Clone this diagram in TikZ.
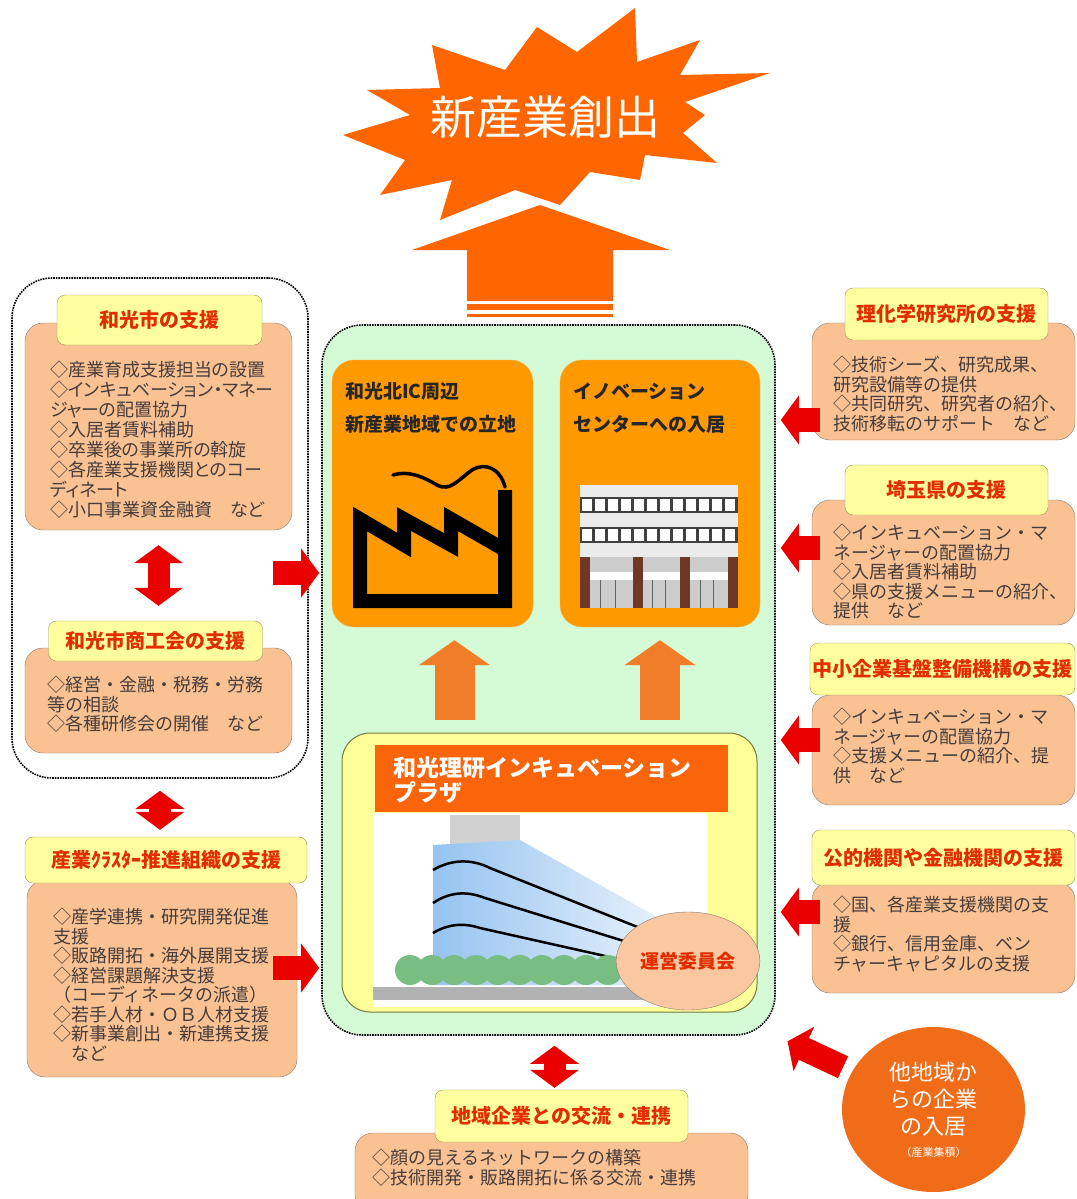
\documentclass[tikz,border=0pt]{standalone}
\usepackage{fontspec}
\setmainfont{Noto Sans CJK JP}
\newfontfamily\propfont{Noto Sans CJK JP}[RawFeature={+palt}]
\usetikzlibrary{shapes, arrows.meta, positioning, calc}

\definecolor{hubgreen}{RGB}{212,250,214}
\definecolor{spotorange}{RGB}{255,153,0}
\definecolor{plazayellow}{RGB}{255,255,153}
\definecolor{bannerorange}{RGB}{250,100,10}
\definecolor{headyellow}{RGB}{255,255,160}
\definecolor{headline}{RGB}{150,150,80}
\definecolor{headred}{RGB}{225,45,0}
\definecolor{bodypeach}{RGB}{250,194,146}
\definecolor{bodyline}{RGB}{140,120,105}
\definecolor{listgray}{RGB}{70,60,60}
\definecolor{arrowred}{RGB}{235,0,0}
\definecolor{uporange}{RGB}{242,125,40}
\definecolor{burstorange}{RGB}{255,102,0}
\definecolor{otherorange}{RGB}{240,108,25}
\definecolor{glassblue}{RGB}{150,195,240}
\definecolor{shrubgreen}{RGB}{120,190,130}
\definecolor{pillarbrown}{RGB}{110,55,40}
\definecolor{committee}{RGB}{250,200,160}

\begin{document}
\begin{tikzpicture}[x=1pt, y=-1pt,
   dotgroup/.style={draw, densely dotted, line width=1.6pt, rounded corners=40pt},
   hub/.style={dotgroup, fill=hubgreen},
   spot/.style={rectangle, fill=spotorange, draw=spotorange!70!white, rounded corners=22pt},
   spottext/.style={align=left, inner sep=0pt, text=black!85, font=\bfseries\fontsize{19}{33}\selectfont},
   plaza/.style={rectangle, draw=headline!80!black, fill=plazayellow, rounded corners=28pt, line width=1pt},
   headbox/.style={rectangle, draw=headline, fill=headyellow, rounded corners=8pt, inner sep=1pt, text=headred, font=\bfseries\fontsize{20}{22}\selectfont},
   bodybox/.style={rectangle, draw=bodyline, fill=bodypeach, rounded corners=18pt},
   items/.style={align=left, inner sep=0pt, text=listgray, font=\fontsize{18}{19.5}\selectfont},
   redarrow/.style={draw=arrowred, line width=24pt, -{Triangle[length=18pt, width=48pt]}},
   redboth/.style={draw=arrowred, line width=22pt, {Triangle[length=18pt, width=48pt]}-{Triangle[length=18pt, width=48pt]}},
   uparrow/.style={draw=uporange, line width=40pt, -{Triangle[length=25pt, width=70pt]}}
]
   \useasboundingbox (0,0) rectangle (1076,1199);

   % Burst
   \fill[burstorange] (432,45) -- (505,70) -- (537,27) -- (577,52) -- (635,8) -- (637,62) -- (700,40) -- (680,75) -- (770,73) -- (685,102) -- (705,115) -- (683,133) -- (717,163) -- (645,155) -- (640,180) -- (590,172) -- (560,205) -- (515,190) -- (440,220) -- (452,180) -- (380,195) -- (405,160) -- (343,135) -- (410,115) -- (367,90) -- (440,88) -- cycle;
   \node[text=white, font=\fontsize{46}{50}\selectfont] (burst) at (545,117) {新産業創出};

   % Big arrow up to the burst
   \fill[burstorange] (467,301) -- (467,250) -- (412,250) -- (540,205) -- (670,250) -- (613,250) -- (613,301) -- cycle;
   \fill[burstorange] (467,304) rectangle (613,310);
   \fill[burstorange] (467,314) rectangle (613,317);

   % Hub
   \node[hub, minimum width=453pt, minimum height=710pt] (hub) at (548.5,680) {};

   % Site and incubation centre
   \node[spot, minimum width=201pt, minimum height=267pt] (site) at (432.5,493.5) {};
   \node[spot, minimum width=200pt, minimum height=267pt] (entry) at (660,493.5) {};
   \node[spottext, below right=22pt and 13pt of site.north west] (sitetext) {和光北IC周辺\\新産業地域での立地};
   \node[spottext, below right=23pt and 13pt of entry.north west] (entrytext) {イノベーション\\センターへの入居};

   % Factory
   \draw[line width=14pt, miter limit=4] (505,490) -- (505,601) -- (360,601) -- (360,519) -- (404,545) -- (404,519) -- (451,545) -- (451,519) -- (505,550);
   \draw[line width=3.5pt, line cap=round] (505,487) .. controls (500,468) and (485,462) .. (472,470) .. controls (458,480) and (450,492) .. (437,485) .. controls (425,478) and (410,470) .. (393,475);

   % Office block
   \fill[black!8] (580,485) rectangle (738,557);
   \foreach \y in {497,527} {
      \fill[black!75] (580,\y) rectangle (738,\y+16);
      \foreach \i in {0,...,11}
         \fill[white] (582+\i*13,\y+2) rectangle (592+\i*13,\y+14);
   }
   \fill[black!20] (580,557) rectangle (738,608);
   \fill[white] (580,572) rectangle (738,580);
   \foreach \x in {600,615,652,665,700,713}
      \draw[black!60, line width=1pt] (\x,580) -- (\x,608);
   \foreach \x in {580,633,680,728}
      \fill[pillarbrown] (\x,557) rectangle (\x+10,608);

   % Plaza
   \node[plaza, minimum width=415pt, minimum height=279pt] (plaza) at (549.5,872.5) {};
   \node[rectangle, fill=bannerorange, minimum width=353pt, minimum height=67pt] (banner) at (551.5,778.5) {};
   \node[align=left, inner sep=0pt, text=white, font=\bfseries\fontsize{23}{25}\selectfont, below right=12pt and 18pt of banner.north west] (bannertext) {和光理研インキュベーション\\プラザ};
   \fill[white] (373,813) rectangle (707,1007);
   \fill[black!18] (450,815) rectangle (520,845);
   \shade[left color=glassblue, right color=glassblue!25] (433,845) -- (520,840) -- (657,917) -- (657,985) -- (433,985) -- cycle;
   \draw[line width=2.5pt] (433,870) .. controls (450,860) and (470,858) .. (490,868) -- (640,928);
   \draw[line width=2.5pt] (433,903) .. controls (448,893) and (465,890) .. (485,898) -- (627,942);
   \draw[line width=2.5pt] (433,933) .. controls (446,925) and (462,922) .. (480,928) -- (623,960);
   \foreach \x in {410,432,...,615}
      \fill[shrubgreen] (\x,970) circle (15);
   \fill[black!30] (373,987) rectangle (645,1000);
   \node[ellipse, draw=bodyline, fill=committee, minimum width=127pt, minimum height=98pt, text=headred, font=\bfseries\fontsize{19}{20}\selectfont] (board) at (688,961) {運営委員会};

   \draw[uparrow, shorten <=13pt, shorten >=13pt] ([xshift=22pt]site.south |- plaza.north) -- ([xshift=22pt]site.south);
   \draw[uparrow, shorten <=13pt, shorten >=13pt] (entry.south |- plaza.north) -- (entry.south);

   % Left column
   \node[dotgroup, minimum width=296pt, minimum height=500pt] (lgroup) at (160,528) {};
   \node[bodybox, minimum width=267pt, minimum height=207pt] (wakobody) at (158.5,426.5) {};
   \node[headbox, minimum width=205pt, minimum height=50pt] (wakohead) at (159.5,320) {和光市の支援};
   \node[items, font=\propfont\fontsize{18}{20}\selectfont, below right=38pt and 25pt of wakobody.north west] (wakolist) {◇産業育成支援担当の設置\\◇インキュベーション・マネー\\ジャーの配置協力\\◇入居者賃料補助\\◇卒業後の事業所の斡旋\\◇各産業支援機関とのコー\\ディネート\\◇小口事業資金融資　など};

   \node[bodybox, minimum width=267pt, minimum height=105pt] (shokobody) at (158.5,700.5) {};
   \node[headbox, minimum width=214pt, minimum height=40pt] (shokohead) at (155.5,641) {和光市商工会の支援};
   \node[items, below right=28pt and 22pt of shokobody.north west] (shokolist) {◇経営・金融・税務・労務\\等の相談\\◇各種研修会の開催　など};

   \node[bodybox, minimum width=270pt, minimum height=197pt] (clusterbody) at (162,978.5) {};
   \node[headbox, minimum width=282pt, minimum height=46pt] (clusterhead) at (166,860) {産業ｸﾗｽﾀｰ推進組織の支援};
   \node[items, below right=28pt and 26pt of clusterbody.north west] (clusterlist) {◇産学連携・研究開発促進\\支援\\◇販路開拓・海外展開支援\\◇経営課題解決支援\\（コーディネータの派遣）\\◇若手人材・ＯＢ人材支援\\◇新事業創出・新連携支援\\　など};

   \draw[redboth, shorten <=15pt, shorten >=15pt] (wakobody.south) -- (wakobody.south |- shokohead.north);
   \draw[redboth, shorten <=12pt, shorten >=7pt] (lgroup.south) -- (lgroup.south |- clusterhead.north);
   \draw[redarrow, shorten >=2pt] ([xshift=-36pt]lgroup.east |- 0,573) -- (hub.west |- 0,573);
   \draw[redarrow, shorten <=-24pt, shorten >=2pt] (clusterbody.east |- 0,968) -- (hub.west |- 0,968);

   % Right column
   \node[bodybox, minimum width=263pt, minimum height=117pt] (rikenbody) at (943.5,381.5) {};
   \node[headbox, minimum width=203pt, minimum height=52pt] (rikenhead) at (946.5,314) {理化学研究所の支援};
   \node[items, below right=33pt and 21pt of rikenbody.north west] (rikenlist) {◇技術シーズ、研究成果、\\研究設備等の提供\\◇共同研究、研究者の紹介、\\技術移転のサポート　など};

   \node[bodybox, minimum width=263pt, minimum height=125pt] (prefbody) at (943.5,562.5) {};
   \node[headbox, minimum width=203pt, minimum height=50pt] (prefhead) at (946.5,490) {埼玉県の支援};
   \node[items, below right=24pt and 21pt of prefbody.north west] (preflist) {◇インキュベーション・マ\\ネージャーの配置協力\\◇入居者賃料補助\\◇県の支援メニューの紹介、\\提供　など};

   \node[bodybox, minimum width=263pt, minimum height=110pt] (smrjbody) at (943.5,750) {};
   \node[headbox, minimum width=265pt, minimum height=52pt] (smrjhead) at (942.5,669) {中小企業基盤整備機構の支援};
   \node[items, below right=13pt and 21pt of smrjbody.north west] (smrjlist) {◇インキュベーション・マ\\ネージャーの配置協力\\◇支援メニューの紹介、提\\供　など};

   \node[bodybox, minimum width=263pt, minimum height=111pt] (bankbody) at (943.5,937.5) {};
   \node[headbox, minimum width=263pt, minimum height=55pt] (bankhead) at (943.5,857.5) {公的機関や金融機関の支援};
   \node[items, below right=14pt and 21pt of bankbody.north west] (banklist) {◇国、各産業支援機関の支\\援\\◇銀行、信用金庫、ベン\\チャーキャピタルの支援};

   \draw[redarrow, shorten <=-8pt, shorten >=5pt] (rikenbody.west |- 0,420) -- (hub.east |- 0,420);
   \draw[redarrow, shorten <=-8pt, shorten >=5pt] (prefbody.west |- 0,548) -- (hub.east |- 0,548);
   \draw[redarrow, shorten <=-8pt, shorten >=5pt] (smrjbody.west |- 0,740) -- (hub.east |- 0,740);
   \draw[redarrow, shorten <=-8pt, shorten >=5pt] (bankbody.west |- 0,912) -- (hub.east |- 0,912);

   % Companies from other regions
   \node[ellipse, fill=otherorange, minimum width=183pt, minimum height=165pt, align=center, text=white, font=\fontsize{22}{27}\selectfont] (other) at (933.5,1109.5) {他地域か\\らの企業\\の入居\\[-5pt]{\fontsize{11}{12}\selectfont （産業集積）}};
   \draw[redarrow, shorten <=10pt, shorten >=13pt] (other) -- (hub.south east);

   % Local companies
   \node[bodybox, minimum width=393pt, minimum height=80pt] (areabody) at (551.5,1173) {};
   \node[headbox, minimum width=253pt, minimum height=52pt] (areahead) at (561.5,1116) {地域企業との交流・連携};
   \node[items, below right=16pt and 17pt of areabody.north west] (arealist) {◇顔の見えるネットワークの構築\\◇技術開発・販路開拓に係る交流・連携};
   \draw[redboth, shorten <=10pt, shorten >=2pt] ([xshift=6pt]hub.south) -- ([xshift=6pt]hub.south |- areahead.north);
\end{tikzpicture}
\end{document}
